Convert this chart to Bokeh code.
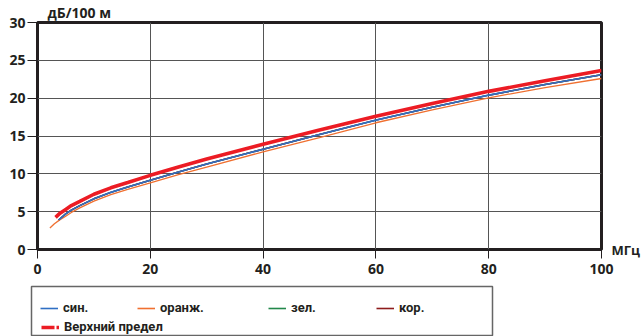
from bokeh.plotting import figure
from bokeh.models import (Range1d, FixedTicker, Legend, LegendItem, LinearAxis, Title)
from bokeh.layouts import column
from bokeh.embed import file_html
from bokeh.resources import INLINE

# ---- data ----
f_red = [3.2, 4, 5, 6, 7.5, 10, 13, 16, 20, 25, 30, 40, 50, 60, 70, 80, 90, 100]
att_red = [4.25, 4.8, 5.3, 5.8, 6.35, 7.3, 8.15, 8.85, 9.8, 10.9, 11.95, 13.9, 15.8, 17.6, 19.3, 20.9, 22.3, 23.65]

f_blue = [3.75, 4, 5, 6, 7.5, 10, 13, 16, 20, 25, 30, 40, 50, 60, 70, 80, 90, 100]
att_blue = [3.9, 4.05, 4.7, 5.2, 5.8, 6.7, 7.55, 8.25, 9.15, 10.25, 11.3, 13.25, 15.2, 17.1, 18.8, 20.4, 21.8, 23.1]
att_green = att_blue
att_brown = att_blue

f_orange = [2.2, 3, 4, 5, 6, 7.5, 10, 13, 16, 20, 25, 30, 40, 50, 60, 70, 80, 90, 100]
att_orange = [2.85, 3.4, 3.95, 4.4, 4.9, 5.5, 6.4, 7.25, 7.95, 8.8, 9.9, 10.9, 12.9, 14.8, 16.75, 18.45, 20.05, 21.4, 22.6]

x_ticks = [0, 20, 40, 60, 80, 100]
y_ticks = [0, 5, 10, 15, 20, 25, 30]
y_unit = "дБ/100 м"
x_unit = "МГц"
labels = ["син.", "оранж.", "зел.", "кор.", "Верхний предел"]

C_BLUE = "#2f6fc4"
C_ORANGE = "#f07030"
C_GREEN = "#22884a"
C_BROWN = "#8e1c1c"
C_RED = "#ec1c24"
DARK = "#231f20"
FONT = "Open Sans"
LFONT = "Roboto"

p = figure(width=642, height=285, output_backend="svg", toolbar_location=None,
           x_range=Range1d(0, 100), y_range=Range1d(0, 30),
           min_border_left=37, min_border_right=38, min_border_top=21, min_border_bottom=36)
p.frame_align = False
p.outline_line_color = DARK
p.outline_line_width = 3

for ax in (p.xaxis[0], p.yaxis[0]):
    ax.axis_line_color = None
    ax.major_tick_in = 0
    ax.minor_tick_line_color = None
    ax.major_tick_line_color = DARK
    ax.major_tick_line_width = 1
    ax.major_label_text_font = FONT
    ax.major_label_text_font_style = "bold"
    ax.major_label_text_font_size = "14px"
    ax.major_label_text_color = DARK
p.xaxis[0].ticker = FixedTicker(ticks=x_ticks)
p.yaxis[0].ticker = FixedTicker(ticks=y_ticks)
p.xaxis[0].major_tick_out = 9
p.yaxis[0].major_tick_out = 10
p.xaxis[0].major_label_standoff = 5
p.yaxis[0].major_label_standoff = 2

# unit label at the right end of the x axis
unit_ax = LinearAxis(ticker=FixedTicker(ticks=[0]), major_label_overrides={0: x_unit},
                     axis_line_color=None, major_tick_line_color=None,
                     major_tick_out=0, major_tick_in=0,
                     minor_tick_line_color=None, minor_tick_out=0, minor_tick_in=0,
                     major_label_standoff=10,
                     major_label_text_font=FONT, major_label_text_font_style="bold",
                     major_label_text_font_size="13px", major_label_text_color=DARK)
p.add_layout(unit_ax, "right")

p.add_layout(Title(text=y_unit, align="left", offset=10, standoff=1, text_font=FONT,
                   text_font_style="bold", text_font_size="14px", text_color=DARK), "above")

p.xgrid.ticker = FixedTicker(ticks=x_ticks)
p.ygrid.ticker = FixedTicker(ticks=y_ticks)
for g in (p.xgrid[0], p.ygrid[0]):
    g.grid_line_color = "#555555"
    g.grid_line_width = 1

p.line(f_blue, att_green, line_color=C_GREEN, line_width=1.5)
p.line(f_blue, att_brown, line_color=C_BROWN, line_width=1.5)
p.line(f_orange, att_orange, line_color=C_ORANGE, line_width=1.3)
p.line(f_blue, att_blue, line_color=C_BLUE, line_width=1.6)
p.line(f_red, att_red, line_color=C_RED, line_width=3.6)

# ---- legend panel (its frame outline is the legend box) ----
lg = figure(width=642, height=51, output_backend="svg", toolbar_location=None,
            x_range=Range1d(1000, 1461), y_range=Range1d(1000, 1050),
            min_border_left=31, min_border_right=150, min_border_top=1, min_border_bottom=0)
lg.frame_align = False
lg.axis.visible = False
lg.grid.visible = False
lg.outline_line_color = "#666666"
lg.outline_line_width = 1.5

r_blue = lg.line(f_blue, att_blue, line_color=C_BLUE, line_width=1.6)
r_orange = lg.line(f_orange, att_orange, line_color=C_ORANGE, line_width=1.6)
r_green = lg.line(f_blue, att_green, line_color=C_GREEN, line_width=1.6)
r_brown = lg.line(f_blue, att_brown, line_color=C_BROWN, line_width=1.6)
r_red = lg.line(f_red, att_red, line_color=C_RED, line_width=3.6, line_dash="13 2 3 2")

positions = [(9, 21), (106, 21), (237, 21), (345, 21), (10, 2)]
for lab, ren, loc in zip(labels, [r_blue, r_orange, r_green, r_brown, r_red], positions):
    leg = Legend(items=[LegendItem(label=lab, renderers=[ren])], location=loc,
                 border_line_alpha=0, background_fill_alpha=0, padding=0, margin=0,
                 glyph_width=18, glyph_height=14, label_standoff=5, label_height=14,
                 label_text_font=LFONT, label_text_font_style="bold",
                 label_text_font_size="13px", label_text_color=DARK)
    lg.add_layout(leg)

layout = column(p, lg, spacing=0)
open("out.html", "w").write(file_html(layout, INLINE))
